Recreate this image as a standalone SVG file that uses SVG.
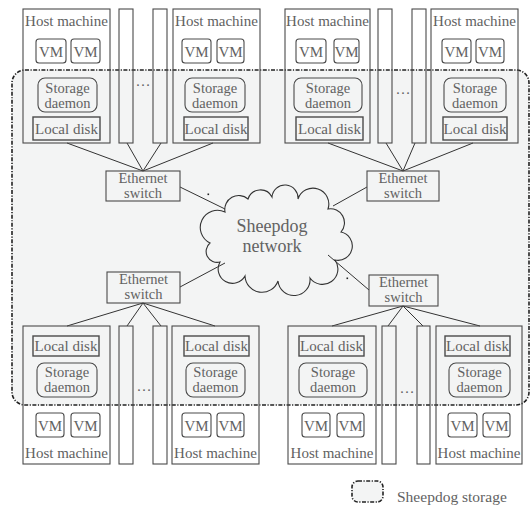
<svg xmlns="http://www.w3.org/2000/svg" width="531" height="511" viewBox="0 0 531 511">
<style>
text{font-family:"Liberation Serif","Times New Roman","DejaVu Serif",serif;font-size:15px;fill:#626262;text-anchor:middle}
.two{font-size:14.5px}
.big{font-size:18px}
.box{fill:none;stroke:#4a4a4a;stroke-width:1.1}
.rbox{fill:none;stroke:#4a4a4a;stroke-width:1.1}
.disk{fill:none;stroke:#4a4a4a;stroke-width:1.4}
.sw{fill:none;stroke:#4a4a4a;stroke-width:1.1}
.ln{stroke:#333;stroke-width:1;fill:none}
.region{fill:#f3f4f4;stroke:#222;stroke-width:1.6;stroke-dasharray:4 1.5 1.2 1.5}
</style>
<rect id="storage-region" class="region" x="12" y="70" width="517" height="335" rx="13"/>

<g id="connectors">
<path class="ln" d="M143 171L67 143M143 171L127 143M143 171L161 143M143 171L213 143"/>
<path class="ln" d="M403 171L328 143M403 171L386 143M403 171L415 143M403 171L473 143"/>
<path class="ln" d="M143 303L67 326M143 303L127 326M143 303L161 326M143 303L215 326"/>
<path class="ln" d="M403 306L332 326M403 306L388 326M403 306L423 326M403 306L480 326"/>
<path class="ln" d="M180 187L225 209M367 187L333 206M180 287L225 263M369 290L328 255"/>
<rect x="207.5" y="193.5" width="1.6" height="1.6" fill="#222"/>
<rect x="346.5" y="277.5" width="1.6" height="1.6" fill="#222"/>
</g>

<!-- Top-left cluster -->
<g id="host-tl1">
<rect class="box" x="23" y="9" width="87" height="134"/>
<text x="66.5" y="26">Host machine</text>
<rect class="rbox" x="36" y="39" width="30" height="24" rx="3"/><text x="51" y="57">VM</text>
<rect class="rbox" x="71" y="39" width="29" height="24" rx="3"/><text x="85.5" y="57">VM</text>
<rect class="rbox" x="38" y="78" width="59" height="34" rx="7"/><text class="two" x="67.5" y="93">Storage</text><text class="two" x="67.5" y="108">daemon</text>
<rect class="disk" x="33" y="117" width="67" height="23"/><text x="66.5" y="134">Local disk</text>
</g>
<g id="col-tl1"><rect class="box" x="119" y="9" width="14" height="134"/></g>
<g id="col-tl2"><rect class="box" x="153" y="9" width="14" height="134"/></g>
<text x="143" y="86">…</text>
<g id="host-tl2">
<rect class="box" x="173" y="9" width="87" height="134"/>
<text x="216.5" y="26">Host machine</text>
<rect class="rbox" x="182" y="39" width="29" height="24" rx="3"/><text x="196.5" y="57">VM</text>
<rect class="rbox" x="217" y="39" width="27" height="24" rx="3"/><text x="230.5" y="57">VM</text>
<rect class="rbox" x="185" y="78" width="60" height="34" rx="7"/><text class="two" x="215" y="93">Storage</text><text class="two" x="215" y="108">daemon</text>
<rect class="disk" x="184" y="117" width="64" height="23"/><text x="216" y="134">Local disk</text>
</g>
<g id="switch-tl">
<rect class="sw" x="106" y="171" width="74" height="30"/>
<text class="two" x="143" y="183">Ethernet</text><text class="two" x="143" y="198">switch</text>
</g>

<!-- Top-right cluster -->
<g id="host-tr1">
<rect class="box" x="285" y="9" width="85" height="134"/>
<text x="327.5" y="26">Host machine</text>
<rect class="rbox" x="296" y="39" width="30" height="24" rx="3"/><text x="311" y="57">VM</text>
<rect class="rbox" x="334" y="39" width="25" height="24" rx="3"/><text x="346.5" y="57">VM</text>
<rect class="rbox" x="294" y="78" width="68" height="34" rx="7"/><text class="two" x="328" y="93">Storage</text><text class="two" x="328" y="108">daemon</text>
<rect class="disk" x="296" y="117" width="67" height="23"/><text x="329.5" y="134">Local disk</text>
</g>
<g id="col-tr1"><rect class="box" x="378" y="9" width="14" height="134"/></g>
<g id="col-tr2"><rect class="box" x="412" y="9" width="14" height="134"/></g>
<text x="403" y="94">…</text>
<g id="host-tr2">
<rect class="box" x="431" y="9" width="87" height="134"/>
<text x="474.5" y="26">Host machine</text>
<rect class="rbox" x="442" y="39" width="29" height="24" rx="3"/><text x="456.5" y="57">VM</text>
<rect class="rbox" x="476" y="39" width="28" height="24" rx="3"/><text x="490" y="57">VM</text>
<rect class="rbox" x="444" y="78" width="62" height="34" rx="7"/><text class="two" x="475" y="93">Storage</text><text class="two" x="475" y="108">daemon</text>
<rect class="disk" x="443" y="117" width="64" height="23"/><text x="475" y="134">Local disk</text>
</g>
<g id="switch-tr">
<rect class="sw" x="367" y="171" width="72" height="30"/>
<text class="two" x="403" y="183">Ethernet</text><text class="two" x="403" y="198">switch</text>
</g>

<!-- Cloud -->
<g id="cloud">
<path fill="none" stroke="#333" stroke-width="1.1" d="M225 212 A14 14 0 0 1 248 199 A13 13 0 0 1 272 197 A13 13 0 0 1 298 199 A15 15 0 0 1 328 209 A14 14 0 0 1 341 232 A14 14 0 0 1 335 260 A14 14 0 0 1 310 278 A16 16 0 0 1 278 281 A17 17 0 0 1 245 276 A14 14 0 0 1 220 262 A11 11 0 0 1 210 243 A12 12 0 0 1 225 212 Z"/>
<text class="big" x="272" y="232">Sheepdog</text>
<text class="big" x="272" y="252">network</text>
</g>

<!-- Bottom-left cluster -->
<g id="switch-bl">
<rect class="sw" x="107" y="272" width="73" height="31"/>
<text class="two" x="143.5" y="284">Ethernet</text><text class="two" x="143.5" y="299">switch</text>
</g>
<g id="host-bl1">
<rect class="box" x="23" y="326" width="87" height="138"/>
<rect class="disk" x="33" y="336" width="66" height="20"/><text x="66" y="351">Local disk</text>
<rect class="rbox" x="37" y="363" width="60" height="34" rx="7"/><text class="two" x="67" y="377">Storage</text><text class="two" x="67" y="392">daemon</text>
<rect class="rbox" x="36" y="413" width="28" height="24" rx="3"/><text x="50" y="431">VM</text>
<rect class="rbox" x="71" y="413" width="29" height="24" rx="3"/><text x="85.5" y="431">VM</text>
<text x="66.5" y="458">Host machine</text>
</g>
<g id="col-bl1"><rect class="box" x="119" y="326" width="14" height="138"/></g>
<g id="col-bl2"><rect class="box" x="153" y="326" width="14" height="138"/></g>
<text x="144" y="391">…</text>
<g id="host-bl2">
<rect class="box" x="172" y="326" width="87" height="138"/>
<rect class="disk" x="184" y="336" width="65" height="20"/><text x="216.5" y="351">Local disk</text>
<rect class="rbox" x="186" y="363" width="59" height="34" rx="7"/><text class="two" x="215.5" y="377">Storage</text><text class="two" x="215.5" y="392">daemon</text>
<rect class="rbox" x="182" y="413" width="29" height="24" rx="3"/><text x="196.5" y="431">VM</text>
<rect class="rbox" x="217" y="413" width="27" height="24" rx="3"/><text x="230.5" y="431">VM</text>
<text x="215.5" y="458">Host machine</text>
</g>

<!-- Bottom-right cluster -->
<g id="switch-br">
<rect class="sw" x="369" y="275" width="69" height="31"/>
<text class="two" x="403.5" y="287">Ethernet</text><text class="two" x="403.5" y="302">switch</text>
</g>
<g id="host-br1">
<rect class="box" x="288" y="326" width="88" height="138"/>
<rect class="disk" x="299" y="336" width="65" height="20"/><text x="331.5" y="351">Local disk</text>
<rect class="rbox" x="299" y="363" width="68" height="34" rx="7"/><text class="two" x="333" y="377">Storage</text><text class="two" x="333" y="392">daemon</text>
<rect class="rbox" x="302" y="413" width="28" height="24" rx="3"/><text x="316" y="431">VM</text>
<rect class="rbox" x="337" y="413" width="27" height="24" rx="3"/><text x="350.5" y="431">VM</text>
<text x="332" y="458">Host machine</text>
</g>
<g id="col-br1"><rect class="box" x="382" y="326" width="14" height="138"/></g>
<g id="col-br2"><rect class="box" x="417" y="326" width="13" height="138"/></g>
<text x="407" y="393">…</text>
<g id="host-br2">
<rect class="box" x="436" y="326" width="86" height="138"/>
<rect class="disk" x="445" y="336" width="65" height="20"/><text x="477.5" y="351">Local disk</text>
<rect class="rbox" x="449" y="363" width="61" height="34" rx="7"/><text class="two" x="479.5" y="377">Storage</text><text class="two" x="479.5" y="392">daemon</text>
<rect class="rbox" x="448" y="413" width="29" height="24" rx="3"/><text x="462.5" y="431">VM</text>
<rect class="rbox" x="483" y="413" width="27" height="24" rx="3"/><text x="496.5" y="431">VM</text>
<text x="479" y="458">Host machine</text>
</g>

<!-- Legend -->
<g id="legend">
<rect class="region" x="352" y="481" width="31" height="21" rx="6"/>
<text x="397" y="502" style="text-anchor:start;font-size:15.5px">Sheepdog storage</text>
</g>
</svg>
